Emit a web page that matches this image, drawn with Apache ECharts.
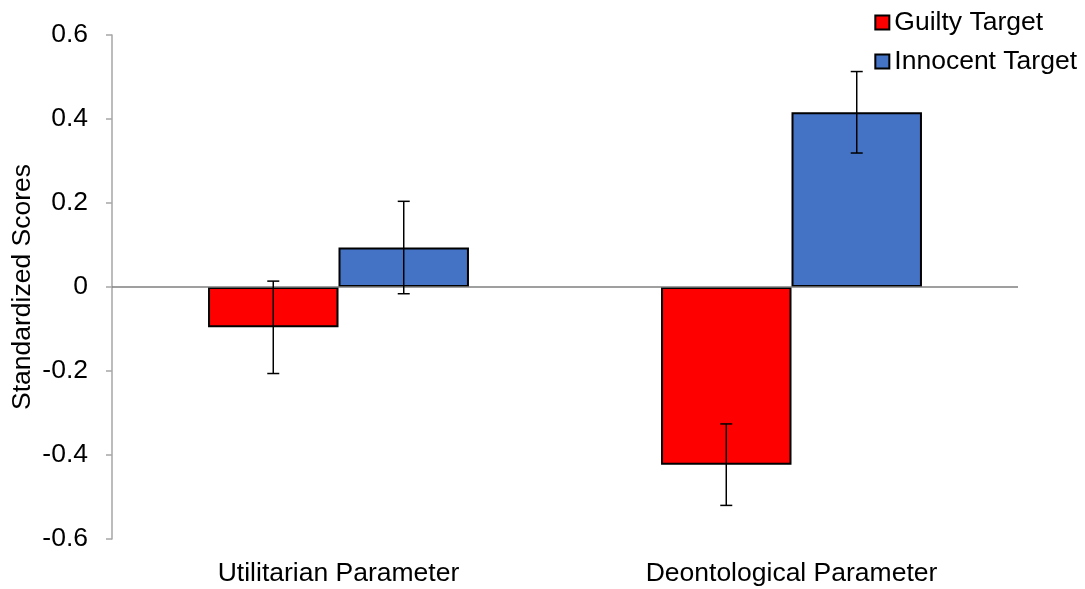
<!DOCTYPE html>
<html>
<head>
<meta charset="utf-8">
<script src="https://cdn.jsdelivr.net/npm/echarts@6/dist/echarts.min.js"></script>
<style>
  html, body { margin: 0; padding: 0; background: #fff; }
  #chart { width: 1085px; height: 589px; }
</style>
</head>
<body>
<div id="chart"></div>
<script>
// categories and values
const categories = ["Utilitarian Parameter", "Deontological Parameter"];
const guiltyMean = [-0.096, -0.423];
const guiltyErr = [0.110, 0.097];
const innocentMean = [0.094, 0.416];
const innocentErr = [0.110, 0.097];

const FONT = "Liberation Sans, Arial, sans-serif";
const FS = 26.5;
const GAP = 0.424; // barCategoryGap as fraction

const chart = echarts.init(document.getElementById("chart"));

// error bar renderer, side = -1 for left bar, +1 for right bar
const errorBars = (side) => (params, api) => {
    const cat = api.value(0);
    const lo = api.coord([cat, api.value(1)]);
    const hi = api.coord([cat, api.value(2)]);
    const band = api.size([1, 0])[0];
    const barW = band * (1 - GAP) / 2;
    const x = lo[0] + side * barW / 2;
    const cap = 6;
    const style = { stroke: "#000", lineWidth: 1.5 };
    return {
        type: "group",
        children: [
            { type: "line", shape: { x1: x, y1: lo[1], x2: x, y2: hi[1] }, style },
            { type: "line", shape: { x1: x - cap, y1: lo[1], x2: x + cap, y2: lo[1] }, style },
            { type: "line", shape: { x1: x - cap, y1: hi[1], x2: x + cap, y2: hi[1] }, style },
        ],
    };
};

const errData = (mean, err) => mean.map((m, i) => [i, m - err[i], m + err[i]]);

const option = {
    animation: false,
    textStyle: { fontFamily: FONT },
    grid: { left: 112, right: 67, top: 35, bottom: 50, containLabel: false, outerBoundsMode: "none" },
    legend: {
        data: ["Guilty Target", "Innocent Target"],
        orient: "vertical",
        right: 3,
        top: 4,
        itemWidth: 14,
        itemHeight: 14,
        itemGap: 12,
        icon: "rect",
        textStyle: { fontSize: FS, color: "#000", fontFamily: FONT },
    },
    xAxis: {
        type: "category",
        data: categories,
        axisLine: { show: false },
        axisTick: { show: false },
        axisLabel: { fontSize: FS, color: "#000", margin: 21, fontFamily: FONT },
    },
    yAxis: {
        type: "value",
        min: -0.6,
        max: 0.6,
        interval: 0.2,
        name: "Standardized Scores",
        nameLocation: "middle",
        nameGap: 76,
        nameMoveOverlap: false,
        nameTextStyle: { fontSize: FS, color: "#000", fontFamily: FONT },
        axisLine: { show: true, lineStyle: { color: "#a6a6a6", width: 1.5 } },
        axisTick: { show: true, length: 6, lineStyle: { color: "#a6a6a6", width: 1.5 } },
        axisLabel: {
            fontSize: FS,
            color: "#000",
            margin: 24,
            fontFamily: FONT,
            formatter: (v) => String(+v.toFixed(1)),
        },
        splitLine: { show: false },
    },
    series: [
        {
            name: "Guilty Target",
            type: "bar",
            data: guiltyMean,
            barGap: 0,
            barCategoryGap: (GAP * 100) + "%",
            itemStyle: { color: "#ff0000", borderColor: "#000", borderWidth: 2 },
            markLine: {
                silent: true,
                symbol: "none",
                label: { show: false },
                lineStyle: { color: "#7f7f7f", width: 1.5, type: "solid" },
                data: [{ yAxis: 0 }],
            },
            z: 2,
        },
        {
            name: "Innocent Target",
            type: "bar",
            data: innocentMean,
            barGap: 0,
            barCategoryGap: (GAP * 100) + "%",
            itemStyle: { color: "#4472c4", borderColor: "#000", borderWidth: 2 },
            z: 2,
        },
        {
            type: "custom",
            renderItem: errorBars(-1),
            data: errData(guiltyMean, guiltyErr),
            encode: { x: 0, y: [1, 2] },
            z: 5,
        },
        {
            type: "custom",
            renderItem: errorBars(1),
            data: errData(innocentMean, innocentErr),
            encode: { x: 0, y: [1, 2] },
            z: 5,
        },
    ],
};

chart.setOption(option);
</script>
</body>
</html>
